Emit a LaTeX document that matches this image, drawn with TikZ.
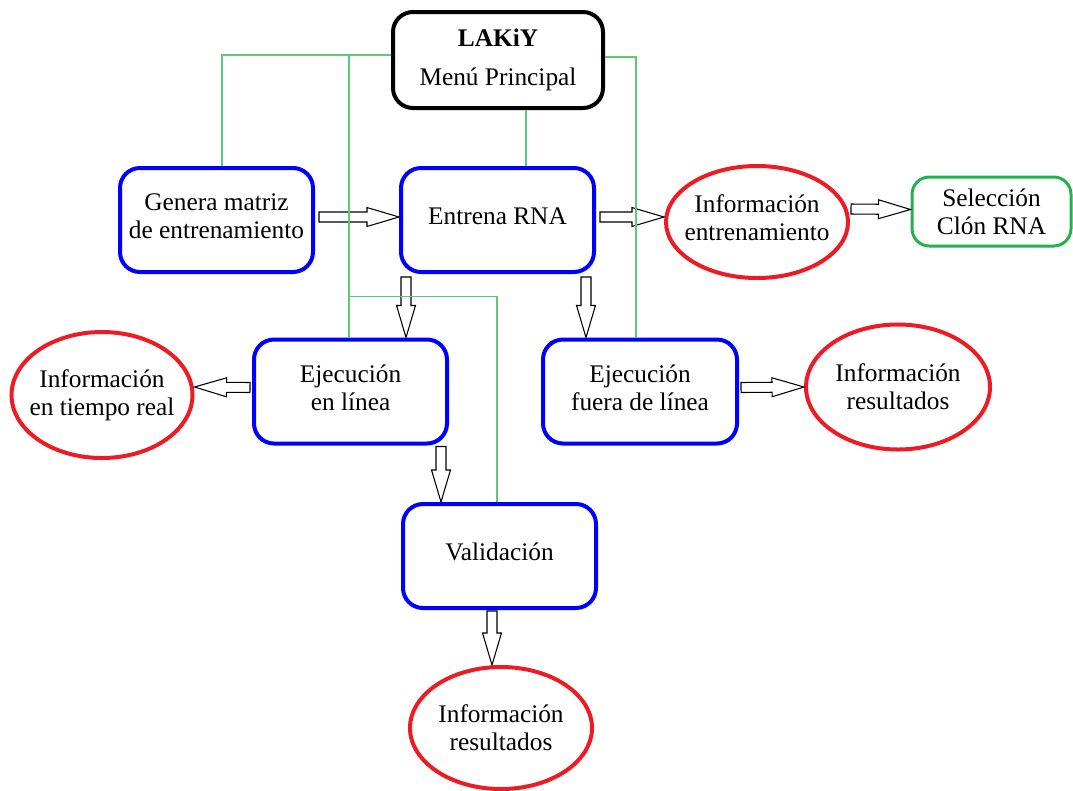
\documentclass[tikz,border=0pt]{standalone}
\usepackage{fontspec}
\setmainfont{Liberation Serif}
\usetikzlibrary{calc,shapes.geometric}

\definecolor{boxblue}{RGB}{0,0,255}
\definecolor{ovalred}{RGB}{237,28,36}
\definecolor{selgreen}{RGB}{34,177,76}
\definecolor{linkgreen}{RGB}{96,200,120}

\tikzset{
  every node/.style={font=\fontsize{19}{21}\selectfont, align=center},
  menubox/.style={draw=black, line width=3pt, rounded corners=15pt,
    minimum width=157.5pt, minimum height=72pt, inner sep=0pt},
  taskbox/.style={draw=boxblue, line width=3pt, rounded corners=15pt,
    minimum width=144.75pt, minimum height=78pt, inner sep=0pt, text depth=6pt},
  infooval/.style={draw=ovalred, line width=3pt, ellipse, inner sep=0pt},
  selbox/.style={draw=selgreen, line width=2.25pt, rounded corners=13pt,
    minimum width=119.25pt, minimum height=51.75pt, inner sep=0pt},
  link/.style={draw=linkgreen, line width=0.9pt},
  blockarr/.style={draw=black, fill=white, line width=0.8pt, line join=miter},
}

% hollow block arrow from #1 to #2 (tip at #2)
\newcommand\blockarrow[2]{%
  \coordinate (bas) at (#1);
  \coordinate (bat) at (#2);
  \coordinate (bab) at ($(bat)!24pt!(bas)$);
  \draw[blockarr]
    ($(bas)!3.75pt!90:(bat)$) --
    ($(bab)!3.75pt!-90:(bas)$) --
    ($(bab)!7.1pt!-90:(bas)$) --
    (bat) --
    ($(bab)!7.1pt!90:(bas)$) --
    ($(bab)!3.75pt!90:(bas)$) --
    ($(bas)!3.75pt!-90:(bat)$) -- cycle;
}

\begin{document}
\begin{tikzpicture}[x=0.75pt, y=-0.75pt]
  \useasboundingbox (0,0) rectangle (1073,790);

  % main menu
  \node[menubox] (menu) at (498,60) {\textbf{LAKiY}\\[8pt]Menú Principal};

  % process boxes
  \node[taskbox] (gen)   at (216.5,220)  {Genera matriz\\de entrenamiento};
  \node[taskbox] (ent)   at (497.5,220)  {Entrena RNA};
  \node[taskbox] (linea) at (350.5,391.5) {Ejecución\\en línea};
  \node[taskbox, minimum width=145.5pt] (fuera) at (640,391.5) {Ejecución\\fuera de línea};
  \node[taskbox] (val)   at (499.5,556)  {Validación};

  % selection box
  \node[selbox] (sel) at (991.5,211.5) {Selección\\Clón RNA};

  % information ovals
  \node[infooval, minimum width=136.5pt, minimum height=84pt,
        label={[align=center, yshift=3.5pt]center:Información\\entrenamiento}] (ient) at (757,222) {};
  \node[infooval, minimum width=135.75pt, minimum height=94.5pt,
        label={[align=center]center:Información\\en tiempo real}] (itr) at (102,395) {};
  \node[infooval, minimum width=138pt, minimum height=93.75pt,
        label={[align=center]center:Información\\resultados}] (ires) at (898,387) {};
  \node[infooval, minimum width=136.5pt, minimum height=91.5pt,
        label={[align=center]center:Información\\resultados}] (ires2) at (501,728) {};

  % block arrows
  \blockarrow{$(gen.east)+(4,-3)$}{$(ent.west)+(0,-3)$}
  \blockarrow{$(ent.east)+(4,-3)$}{$(ient.west)+(0,-5)$}
  \blockarrow{$(ient.east)+(1,-13)$}{$(sel.west)+(0,-2)$}
  \blockarrow{$(linea.west)+(-2,-4)$}{$(itr.east)+(0,-8)$}
  \blockarrow{$(fuera.east)+(2,-4)$}{ires.west}
  \blockarrow{$(ent.south)+(-91.5,3)$}{$(linea.north)+(55.5,0)$}
  \blockarrow{$(ent.south)+(88.5,3)$}{$(fuera.north)+(-54,0)$}
  \blockarrow{$(linea.south)+(90.5,1)$}{$(val.north)+(-58.5,0)$}
  \blockarrow{$(val.south)+(-7.5,1)$}{$(ires2.north)+(-9,0)$}

  % menu links
  \coordinate (busL) at ($(menu.west)+(0,-5)$);
  \coordinate (tapL) at ($(linea.north)+(-1.5,0)$);
  \coordinate (busM) at ($(tapL)+(0,-41)$);
  \draw[link] (busL) -| ($(gen.north)+(5.5,0)$);
  \draw[link] (tapL |- busL) -- (tapL);
  \draw[link] (busM) -| ($(val.north)+(-2.5,0)$);
  \draw[link] ($(menu.east)+(0,-3)$) -| ($(fuera.north)+(-4,0)$);
  \draw[link] ($(menu.south)+(28,0)$) -- ($(ent.north)+(28.5,0)$);
\end{tikzpicture}
\end{document}
